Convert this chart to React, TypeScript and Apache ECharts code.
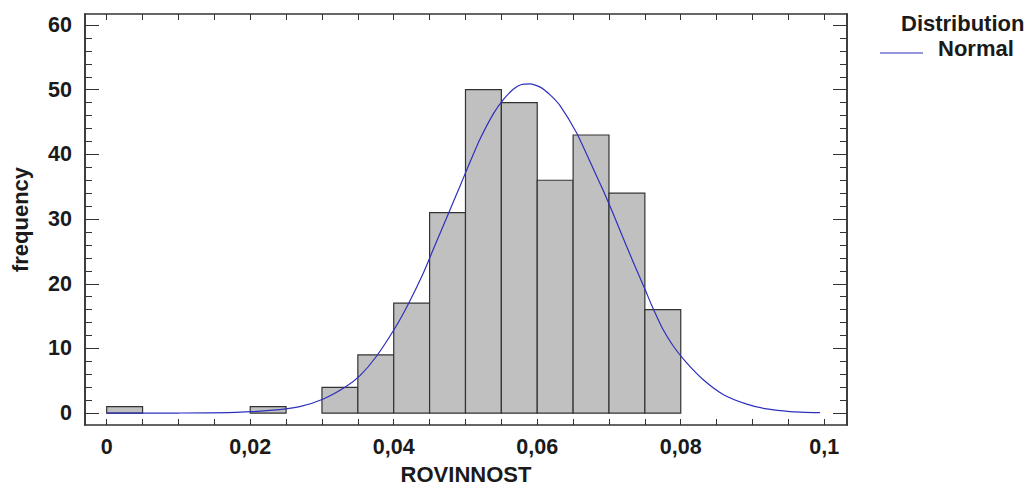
import React, { useEffect, useRef } from "react";
import * as echarts from "echarts";

// Histogram bins (left edge, right edge) and counts
const binLeft = [0, 0.02, 0.03, 0.035, 0.04, 0.045, 0.05, 0.055, 0.06, 0.065, 0.07, 0.075];
const binRight = [0.005, 0.025, 0.035, 0.04, 0.045, 0.05, 0.055, 0.06, 0.065, 0.07, 0.075, 0.08];
const counts = [1, 1, 4, 9, 17, 31, 50, 48, 36, 43, 34, 16];

// Fitted normal curve
const curveX = [0, 0.01, 0.018, 0.0241, 0.0269, 0.0302, 0.0332, 0.0353, 0.0376, 0.0402, 0.042, 0.0441, 0.0455, 0.0476, 0.0492, 0.0504, 0.052, 0.0539, 0.0553, 0.0567, 0.0578, 0.059, 0.0604, 0.0618, 0.0632, 0.0655, 0.0673, 0.0692, 0.0706, 0.072, 0.0734, 0.075, 0.0759, 0.0775, 0.079, 0.0808, 0.0831, 0.0859, 0.0892, 0.092, 0.0952, 0.0994];
const curveY = [0, 0.02, 0.12, 0.55, 1.0, 2.2, 4.0, 5.8, 8.8, 13.2, 16.8, 21.6, 25.3, 30.8, 35.0, 38.2, 42.3, 46.3, 48.5, 50.1, 50.8, 50.9, 50.4, 49.2, 47.5, 43.3, 39.0, 34.4, 30.8, 27.0, 23.3, 19.2, 16.8, 13.0, 10.3, 7.8, 5.2, 2.9, 1.4, 0.65, 0.25, 0.08];

const xLabels = [0, 0.02, 0.04, 0.06, 0.08, 0.1];
const xTicks = [0, 0.005, 0.01, 0.015, 0.02, 0.025, 0.03, 0.035, 0.04, 0.045, 0.05, 0.055, 0.06, 0.065, 0.07, 0.075, 0.08, 0.085, 0.09, 0.095, 0.1];
const yMajor = [0, 10, 20, 30, 40, 50, 60];
const yMinor = [2, 4, 6, 8, 12, 14, 16, 18, 22, 24, 26, 28, 32, 34, 36, 38, 42, 44, 46, 48, 52, 54, 56, 58];

const FONT = "'Liberation Sans', Arial, sans-serif";
const TXT = "#1a1a1a";
const FRAME = "#333333";
const CURVE = "#2f2fbf";

export default function App() {
  const ref = useRef<HTMLDivElement>(null);
  useEffect(() => {
    if (!ref.current) return;
    const chart = echarts.init(ref.current, null, { renderer: "svg" });
    const xMin = -0.003024, xMax = 0.10317;
    const yMin = -1.83, yMax = 61.7;
    const lineStyle = { color: FRAME, width: 1.5 };
    const baseX = {
      type: "value", min: xMin, max: xMax, splitLine: { show: false },
      axisLine: { show: true, onZero: false, lineStyle },
    };
    const baseY = {
      type: "value", min: yMin, max: yMax, splitLine: { show: false },
      axisLine: { show: true, onZero: false, lineStyle },
    };
    const histData = binLeft.map((l, i) => [l, binRight[i], counts[i]]);
    const curveData = curveX.map((x, i) => [x, curveY[i]]);
    chart.setOption({
      animation: false,
      grid: { left: 85, top: 14, width: 762, height: 418, containLabel: false },
      xAxis: [
        {
          ...baseX, position: "bottom",
          axisTick: { show: true, inside: true, length: 6, customValues: xTicks, lineStyle: { color: FRAME, width: 1 } },
          axisLabel: {
            show: true, customValues: xLabels, margin: 11,
            formatter: (v: number) => String(v).replace(".", ","),
            fontFamily: FONT, fontWeight: "bold", fontSize: 21.5, color: TXT,
          },
          name: "ROVINNOST", nameLocation: "middle", nameGap: 38,
          nameTextStyle: { fontFamily: FONT, fontWeight: "bold", fontSize: 22, color: TXT },
        },
        {
          ...baseX, position: "top",
          axisTick: { show: true, inside: true, length: 6, customValues: xTicks, lineStyle: { color: FRAME, width: 1 } },
          axisLabel: { show: false },
        },
      ],
      yAxis: [
        {
          ...baseY, position: "left",
          axisTick: { show: true, inside: true, length: 14, customValues: yMajor, lineStyle: { color: FRAME, width: 1 } },
          axisLabel: {
            show: true, customValues: yMajor, margin: 13,
            fontFamily: FONT, fontWeight: "bold", fontSize: 21.5, color: TXT,
          },
          name: "frequency", nameLocation: "middle", nameGap: 54, nameRotate: 90,
          nameTextStyle: { fontFamily: FONT, fontWeight: "bold", fontSize: 22, color: TXT },
        },
        {
          ...baseY, position: "left",
          axisTick: { show: true, inside: true, length: 7, customValues: yMinor, lineStyle: { color: FRAME, width: 1 } },
          axisLabel: { show: false },
        },
        {
          ...baseY, position: "right",
          axisTick: { show: true, inside: true, length: 14, customValues: yMajor, lineStyle: { color: FRAME, width: 1 } },
          axisLabel: { show: false },
        },
        {
          ...baseY, position: "right",
          axisTick: { show: true, inside: true, length: 7, customValues: yMinor, lineStyle: { color: FRAME, width: 1 } },
          axisLabel: { show: false },
        },
      ],
      series: [
        {
          type: "custom",
          xAxisIndex: 0, yAxisIndex: 0,
          data: histData,
          encode: { x: [0, 1], y: 2 },
          renderItem: (params: any, api: any) => {
            const p0 = api.coord([api.value(0), api.value(2)]);
            const p1 = api.coord([api.value(1), 0]);
            return {
              type: "rect",
              shape: { x: p0[0], y: p0[1], width: p1[0] - p0[0], height: p1[1] - p0[1] },
              style: { fill: "#c0c0c0", stroke: FRAME, lineWidth: 1.2 },
            };
          },
          z: 2,
        },
        {
          type: "line",
          name: "Normal",
          xAxisIndex: 0, yAxisIndex: 0,
          data: curveData,
          showSymbol: false,
          smooth: 0.2,
          lineStyle: { color: CURVE, width: 1.2 },
          z: 3,
        },
      ],
      graphic: [
        { type: "text", left: 901, top: 12, style: { text: "Distribution", fontFamily: FONT, fontWeight: "bold", fontSize: 22, fill: TXT } },
        { type: "line", shape: { x1: 880, y1: 53, x2: 923, y2: 53 }, style: { stroke: CURVE, lineWidth: 1.2 } },
        { type: "text", left: 938, top: 37, style: { text: "Normal", fontFamily: FONT, fontWeight: "bold", fontSize: 22, fill: TXT } },
      ],
    });
    return () => chart.dispose();
  }, []);
  return <div ref={ref} style={{ width: 1030, height: 490, position: "absolute", left: 0, top: 0 }} />;
}
